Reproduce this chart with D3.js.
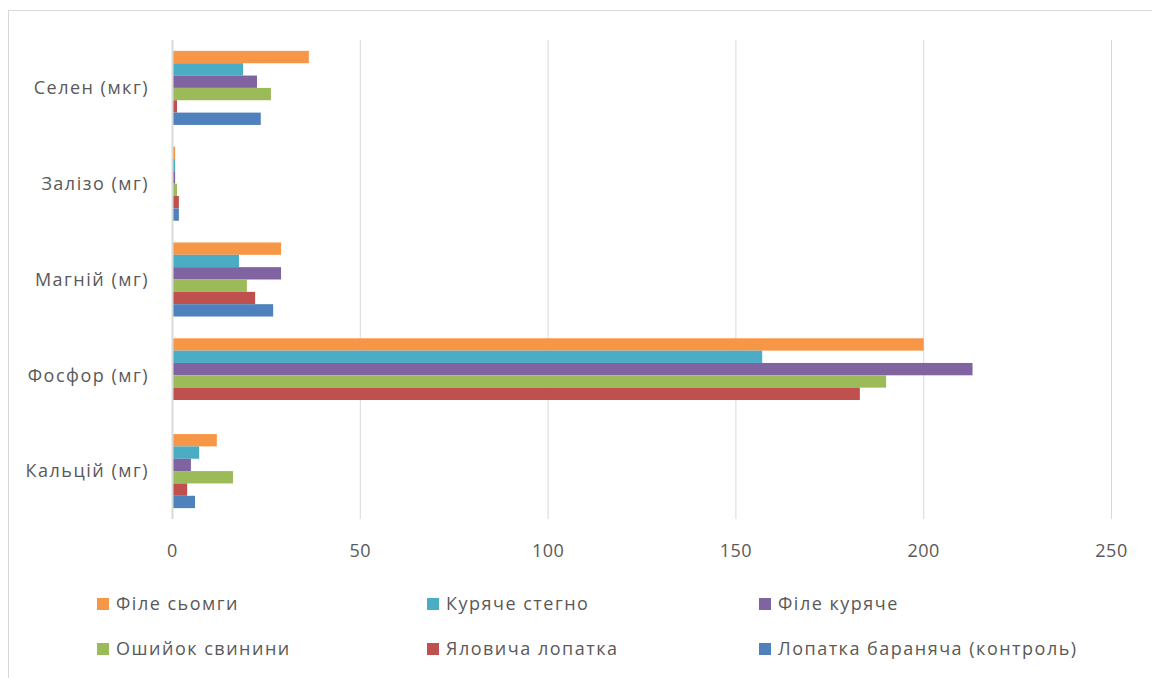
<!DOCTYPE html>
<html>
<head>
<meta charset="utf-8">
<script src="https://cdn.jsdelivr.net/npm/d3@7"></script>
<style>
  body { margin: 0; background: #fff; }
  text { font-family: "Open Sans", "Noto Sans", sans-serif; fill: #595959; }
</style>
</head>
<body>
<svg id="chart"></svg>
<script>
const categories = ["Кальцій (мг)", "Фосфор (мг)", "Магній (мг)", "Залізо (мг)", "Селен (мкг)"];
const seriesNames = ["Філе сьомги", "Куряче стегно", "Філе куряче", "Ошийок свинини", "Яловича лопатка", "Лопатка бараняча (контроль)"];
const seriesColors = ["#f79646", "#4bacc6", "#8064a2", "#9bbb59", "#c0504d", "#4f81bd"];

// values per category, in series order
const salmon = [11.8, 200, 28.9, 0.7, 36.3];
const chickenThigh = [7.1, 157, 17.7, 0.7, 18.8];
const chickenFillet = [4.9, 213, 28.9, 0.7, 22.5];
const porkNeck = [16.1, 190, 19.8, 1.2, 26.2];
const beefShoulder = [3.9, 183, 22.0, 1.7, 1.2];
const lambShoulder = [6.0, 0, 26.8, 1.7, 23.5];
const xTicks = [0, 50, 100, 150, 200, 250];

const seriesValues = [salmon, chickenThigh, chickenFillet, porkNeck, beefShoulder, lambShoulder];

const width = 1152, height = 678;
const svg = d3.select("#chart").attr("width", width).attr("height", height);

const margin = { left: 172.5, right: 40.5, top: 40, bottom: 159 };

// chart frame
svg.append("rect")
    .attr("x", 8.5).attr("y", 10.5)
    .attr("width", width).attr("height", height)
    .attr("fill", "none")
    .attr("stroke", "#d9d9d9");

const x = d3.scaleLinear()
    .domain([0, 250])
    .range([margin.left, width - margin.right]);

// categories from bottom to top
const y = d3.scaleBand()
    .domain(categories.slice().reverse())
    .range([margin.top, height - margin.bottom])
    .paddingInner(0.227)
    .paddingOuter(0.1135);

const inner = d3.scaleBand()
    .domain(seriesNames)
    .range([0, y.bandwidth()]);

// grid
svg.append("g")
    .selectAll("line")
    .data(xTicks)
    .join("line")
    .attr("x1", d => x(d)).attr("x2", d => x(d))
    .attr("y1", margin.top).attr("y2", height - margin.bottom)
    .attr("stroke", "#d9d9d9")
    .attr("stroke-width", 1);

// bars
svg.append("g")
    .selectAll("g")
    .data(seriesNames)
    .join("g")
    .attr("fill", (d, i) => seriesColors[i])
    .selectAll("rect")
    .data((s, i) => categories.map((c, j) => ({ s, c, v: seriesValues[i][j] })))
    .join("rect")
    .attr("x", x(0))
    .attr("y", d => y(d.c) + inner(d.s))
    .attr("width", d => x(d.v) - x(0))
    .attr("height", inner.bandwidth());

// y axis line
svg.append("line")
    .attr("x1", x(0)).attr("x2", x(0))
    .attr("y1", margin.top).attr("y2", height - margin.bottom)
    .attr("stroke", "#d9d9d9")
    .attr("stroke-width", 2);

// x tick labels
svg.append("g")
    .selectAll("text")
    .data(xTicks)
    .join("text")
    .attr("x", d => x(d))
    .attr("y", 557)
    .attr("text-anchor", "middle")
    .attr("font-size", 18)
    .attr("letter-spacing", 0.5)
    .text(d => d);

// category labels
svg.append("g")
    .selectAll("text")
    .data(categories)
    .join("text")
    .attr("x", 149)
    .attr("y", d => y(d) + y.bandwidth() / 2)
    .attr("dy", "0.35em")
    .attr("text-anchor", "end")
    .attr("font-size", 18)
    .attr("letter-spacing", 1.5)
    .text(d => d);

// legend
const legendCols = [97, 427, 759];
const legendRows = [604, 649];
const legend = svg.append("g")
    .selectAll("g")
    .data(seriesNames)
    .join("g")
    .attr("transform", (d, i) => `translate(${legendCols[i % 3]},${legendRows[Math.floor(i / 3)]})`);

legend.append("rect")
    .attr("x", 0).attr("y", -6)
    .attr("width", 12).attr("height", 12)
    .attr("fill", (d, i) => seriesColors[i]);

legend.append("text")
    .attr("x", 19)
    .attr("dy", "0.35em")
    .attr("font-size", 18)
    .attr("letter-spacing", 1.5)
    .text(d => d);
</script>
</body>
</html>
